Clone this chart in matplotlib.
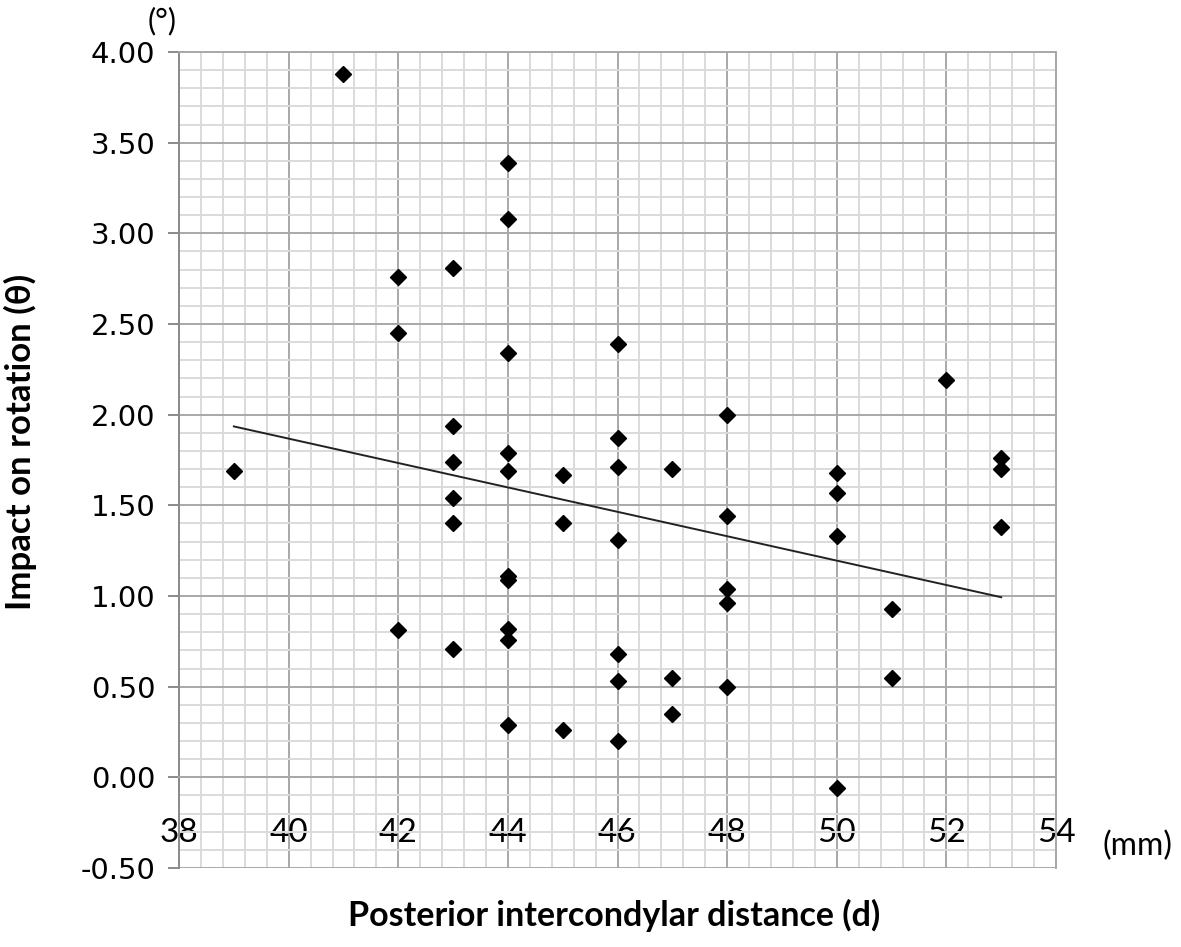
import numpy as np
import matplotlib.pyplot as plt
from matplotlib.ticker import MultipleLocator, FormatStrFormatter

# distance (mm) and impact on rotation (deg)
distance = [39, 41,
            42, 42, 42,
            43, 43, 43, 43, 43, 43,
            44, 44, 44, 44, 44, 44, 44, 44, 44, 44,
            45, 45, 45,
            46, 46, 46, 46, 46, 46, 46,
            47, 47, 47,
            48, 48, 48, 48, 48,
            50, 50, 50, 50,
            51, 51,
            52,
            53, 53, 53]
rotation = [1.69, 3.88,
            2.76, 2.45, 0.81,
            2.81, 1.94, 1.74, 1.54, 1.40, 0.71,
            3.39, 3.08, 2.34, 1.79, 1.69, 1.11, 1.09, 0.82, 0.76, 0.29,
            1.67, 1.40, 0.26,
            2.39, 1.87, 1.71, 1.31, 0.68, 0.53, 0.20,
            1.70, 0.55, 0.35,
            2.00, 1.44, 1.04, 0.96, 0.50,
            1.68, 1.57, 1.33, -0.06,
            0.93, 0.55,
            2.19,
            1.76, 1.70, 1.38]

x = np.array(distance, dtype=float)
y = np.array(rotation)
slope, intercept = np.polyfit(x, y, 1)
xfit = np.array([x.min(), x.max()])

fig = plt.figure(figsize=(11.81, 9.47), dpi=100)
ax = fig.add_axes([0.1516, 0.0834, 0.7426, 0.8617])

ax.set_xlim(38, 54)
ax.set_ylim(-0.5, 4.0)
ax.xaxis.set_major_locator(MultipleLocator(2))
ax.xaxis.set_minor_locator(MultipleLocator(0.4))
ax.yaxis.set_major_locator(MultipleLocator(0.5))
ax.yaxis.set_minor_locator(MultipleLocator(0.1))
ax.yaxis.set_major_formatter(FormatStrFormatter('%.2f'))

ax.grid(which='minor', color='#dadada', lw=1.4, zorder=0)
ax.grid(which='major', color='#a8a8a8', lw=1.4, zorder=0)
ax.set_axisbelow(True)

for s in ['top', 'right']:
    ax.spines[s].set_color('#a8a8a8')
    ax.spines[s].set_linewidth(1.4)
ax.spines['left'].set_color('#8a8a8a')
ax.spines['left'].set_linewidth(1.4)
ax.spines['bottom'].set_position(('data', 0))
ax.spines['bottom'].set_color('#a8a8a8')
ax.spines['bottom'].set_linewidth(1.4)

ax.tick_params(axis='y', which='major', length=8, width=1.4, color='#8a8a8a',
               labelsize=21, pad=9)
ax.tick_params(axis='x', which='major', length=9, width=1.4, color='#a8a8a8',
               labelsize=24, pad=20)
ax.tick_params(which='minor', length=0)
for lab in ax.get_xticklabels():
    lab.set_fontfamily('Lato')

ax.plot(xfit, slope * xfit + intercept, color='#222222', lw=1.4, zorder=2)
ax.plot(x, y, linestyle='none', marker='D', ms=8, color='black', zorder=3)

fig.text(0.137, 0.978, '(°)', fontsize=22, family='Lato', ha='center', va='center')
fig.text(0.963, 0.107, '(mm)', fontsize=23, family='Lato', ha='center', va='center')
fig.text(0.520, 0.033, 'Posterior intercondylar distance (d)', fontsize=24.5,
         family='Lato', weight='bold', ha='center', va='center')
fig.text(0.017, 0.533, 'Impact on rotation (θ)', fontsize=25, family='Lato',
         weight='bold', rotation=90, ha='center', va='center')

fig.savefig('out.png', dpi=100)
